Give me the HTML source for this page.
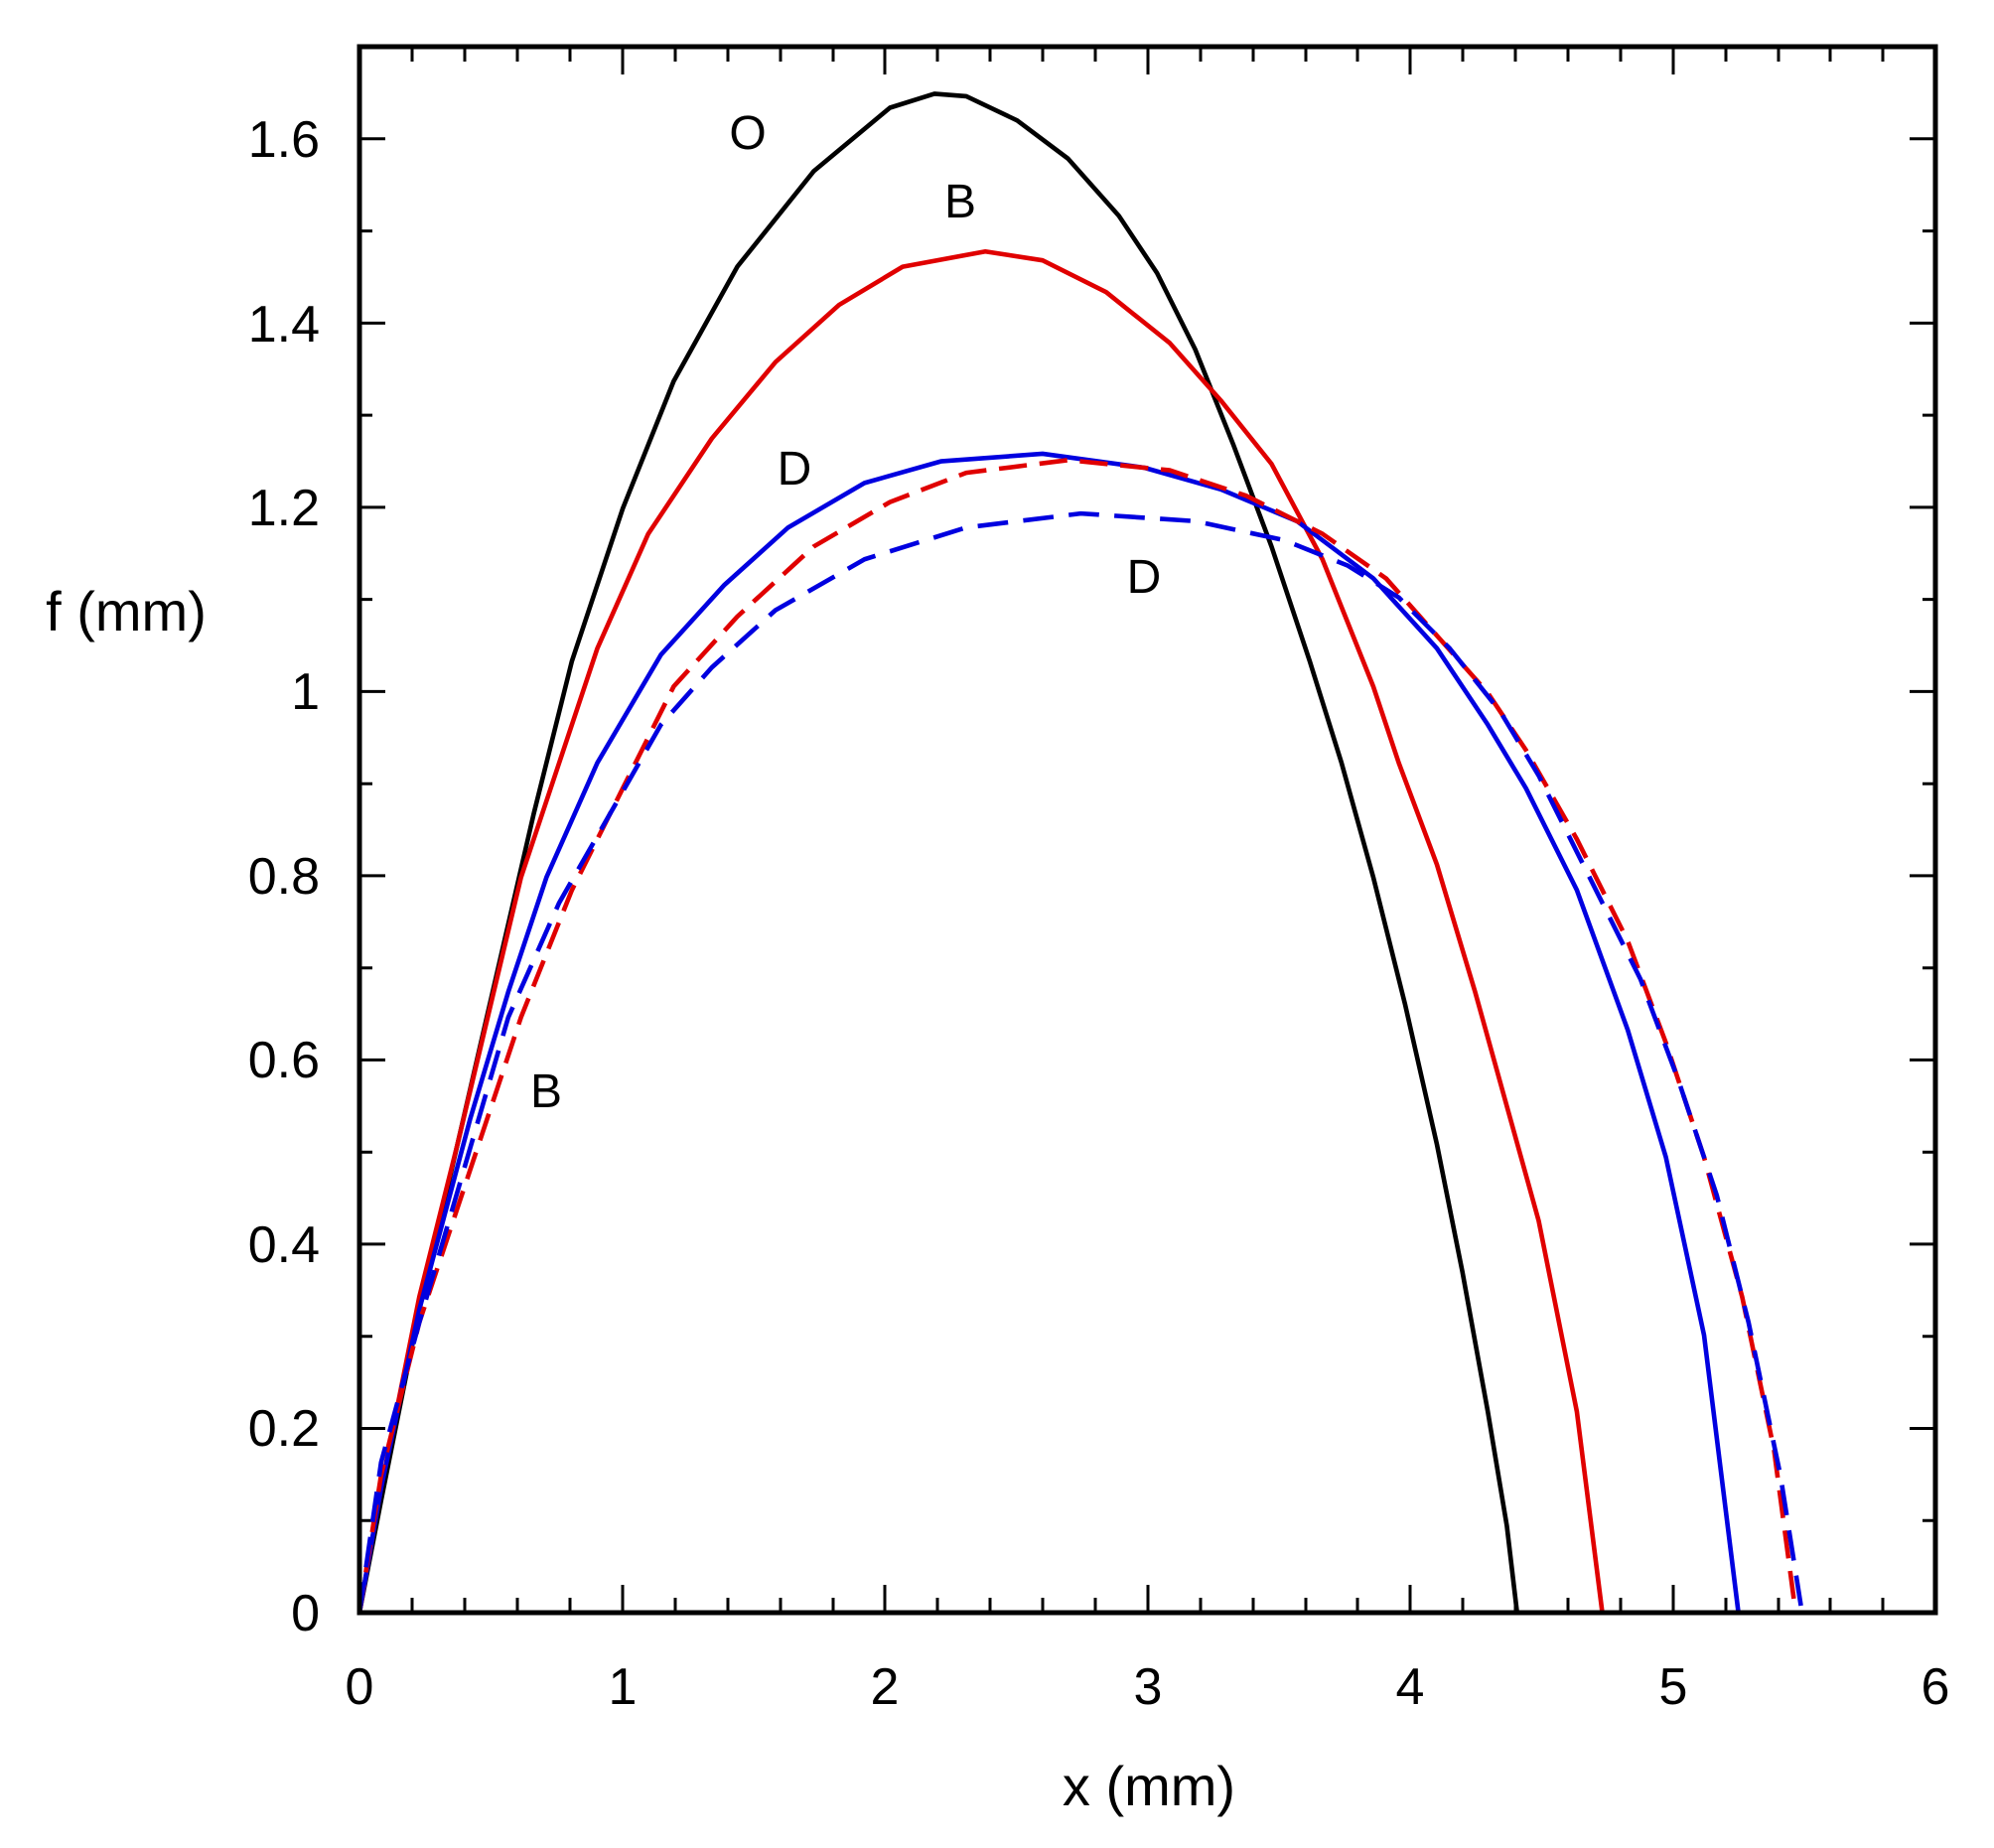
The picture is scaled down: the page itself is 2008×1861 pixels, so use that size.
<!DOCTYPE html>
<html><head><meta charset="utf-8"><style>html,body{margin:0;padding:0;background:#fff}svg{display:block}</style></head>
<body>
<svg width="2008" height="1861" viewBox="0 0 2008 1861" xmlns="http://www.w3.org/2000/svg" font-family="Liberation Sans, Arial, sans-serif">
<rect width="2008" height="1861" fill="#fff"/>
<g stroke="#000" stroke-width="3">
<path d="
M415,1624v-15M468,1624v-15M521,1624v-15M574,1624v-15M627,1624v-28M680,1624v-15M733,1624v-15M786,1624v-15M839,1624v-15M891,1624v-28M944,1624v-15M997,1624v-15M1050,1624v-15M1103,1624v-15M1156,1624v-28M1209,1624v-15M1262,1624v-15M1315,1624v-15M1367,1624v-15M1420,1624v-28M1473,1624v-15M1526,1624v-15M1579,1624v-15M1632,1624v-15M1685,1624v-28M1738,1624v-15M1791,1624v-15M1843,1624v-15M1896,1624v-15
M415,47v15M468,47v15M521,47v15M574,47v15M627,47v28M680,47v15M733,47v15M786,47v15M839,47v15M891,47v28M944,47v15M997,47v15M1050,47v15M1103,47v15M1156,47v28M1209,47v15M1262,47v15M1315,47v15M1367,47v15M1420,47v28M1473,47v15M1526,47v15M1579,47v15M1632,47v15M1685,47v28M1738,47v15M1791,47v15M1843,47v15M1896,47v15
M362,1531.2h13M362,1438.5h26M362,1345.7h13M362,1252.9h26M362,1160.2h13M362,1067.4h26M362,974.7h13M362,881.9h26M362,789.2h13M362,696.4h26M362,603.6h13M362,510.9h26M362,418.1h13M362,325.4h26M362,232.6h13M362,139.8h26
M1949,1531.2h-13M1949,1438.5h-26M1949,1345.7h-13M1949,1252.9h-26M1949,1160.2h-13M1949,1067.4h-26M1949,974.7h-13M1949,881.9h-26M1949,789.2h-13M1949,696.4h-26M1949,603.6h-13M1949,510.9h-26M1949,418.1h-13M1949,325.4h-26M1949,232.6h-13M1949,139.8h-26
"/>
</g>
<g transform="translate(362,47) scale(1.281) translate(-283,-37)" fill="none" stroke-width="3.6" stroke-linejoin="round">
<polyline stroke="#000" points="283,1268 300,1180 330,1030 360,900 390,770 420,640 450,520 490,400 530,300 580,210 640,135 700,85 735,74 760,76 800,95 840,125 880,170 910,215 940,275 970,350 1000,430 1030,520 1055,600 1080,690 1105,790 1130,900 1150,1000 1170,1110 1185,1200 1193,1268"/>
<polyline stroke="#e00000" points="283,1268 300,1170 330,1020 360,900 410,690 440,600 470,510 510,420 560,345 610,285 660,240 710,210 775,198 820,205 870,230 920,270 960,315 1000,365 1040,440 1080,540 1100,600 1130,680 1160,780 1185,870 1210,960 1240,1110 1260,1268"/>
<polyline stroke="#0000e0" points="283,1268 300,1170 330,1030 370,880 400,780 430,690 470,600 520,515 570,460 620,415 680,380 740,363 820,357 900,368 960,385 1020,410 1080,455 1130,510 1170,570 1200,620 1240,700 1280,810 1310,910 1340,1050 1367,1268"/>
<polyline stroke="#e00000" stroke-dasharray="22 10" points="283,1268 300,1160 330,1040 370,920 410,800 450,700 490,620 530,540 580,485 640,430 700,395 760,372 840,362 920,370 980,390 1040,420 1090,455 1130,500 1170,545 1200,590 1240,660 1280,740 1310,820 1340,910 1370,1020 1395,1140 1412,1268"/>
<polyline stroke="#0000e0" stroke-dasharray="24 12" points="283,1268 300,1150 330,1040 365,920 400,800 440,710 480,640 520,570 560,525 610,480 680,440 760,415 850,404 940,410 1010,425 1060,445 1100,470 1140,510 1180,560 1210,610 1250,690 1290,770 1320,850 1350,940 1375,1040 1400,1160 1417,1268"/>
</g>
<rect x="362" y="47" width="1587" height="1577" fill="none" stroke="#000" stroke-width="5"/>
<g font-size="52" fill="#000" text-anchor="end">
<text x="322" y="1642">0</text>
<text x="322" y="1456">0.2</text>
<text x="322" y="1271">0.4</text>
<text x="322" y="1085">0.6</text>
<text x="322" y="900">0.8</text>
<text x="322" y="714">1</text>
<text x="322" y="529">1.2</text>
<text x="322" y="344">1.4</text>
<text x="322" y="158">1.6</text>
</g>
<g font-size="52" fill="#000" text-anchor="middle">
<text x="362" y="1716">0</text>
<text x="627" y="1716">1</text>
<text x="891" y="1716">2</text>
<text x="1156" y="1716">3</text>
<text x="1420" y="1716">4</text>
<text x="1685" y="1716">5</text>
<text x="1949" y="1716">6</text>
<text x="1157" y="1818" font-size="56">x (mm)</text>
<text x="127" y="635" font-size="56">f (mm)</text>
<text x="753" y="150" font-size="48">O</text>
<text x="967" y="219" font-size="48">B</text>
<text x="800" y="488" font-size="48">D</text>
<text x="1152" y="597" font-size="48">D</text>
<text x="550" y="1115" font-size="48">B</text>
</g>
</svg>
</body></html>
